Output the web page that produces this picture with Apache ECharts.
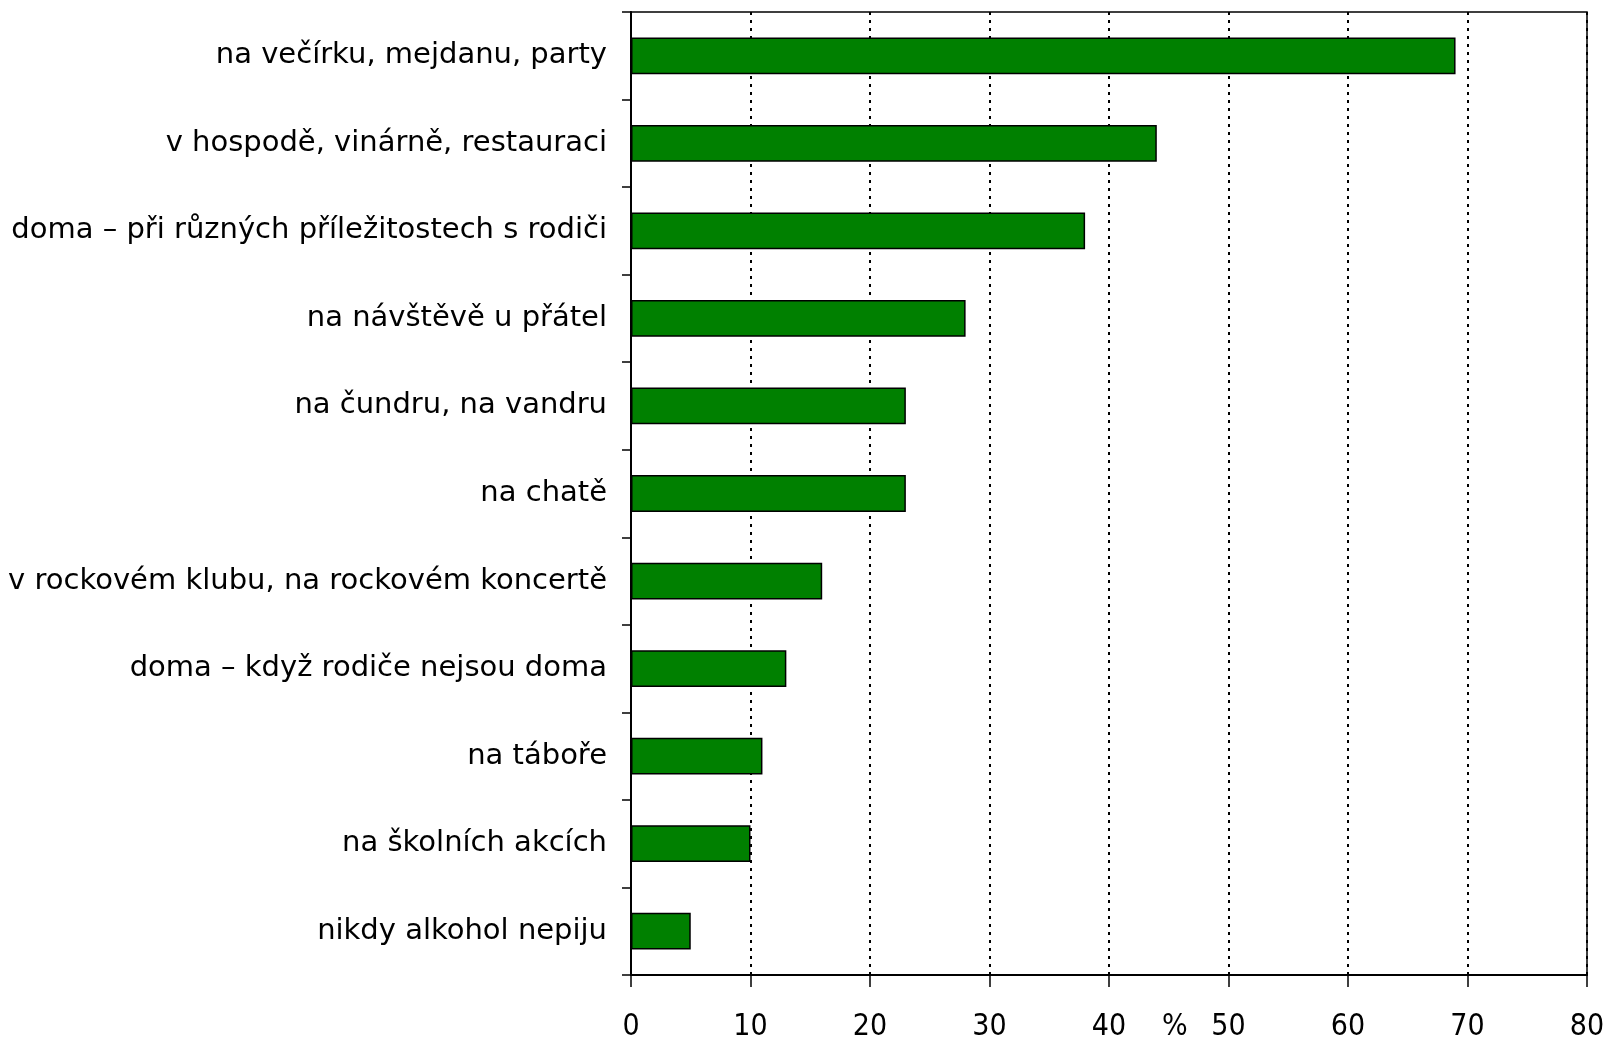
<!DOCTYPE html>
<html>
<head>
<meta charset="utf-8">
<script src="https://cdn.jsdelivr.net/npm/echarts@6/dist/echarts.min.js"></script>
<style>
html,body{margin:0;padding:0;background:#fff;}
#chart{width:1609px;height:1045px;}
</style>
</head>
<body>
<div id="chart"></div>
<script>
// kde pijí alkohol
var categories = [
  'na večírku, mejdanu, party',
  'v hospodě, vinárně, restauraci',
  'doma – při různých příležitostech s rodiči',
  'na návštěvě u přátel',
  'na čundru, na vandru',
  'na chatě',
  'v rockovém klubu, na rockovém koncertě',
  'doma – když rodiče nejsou doma',
  'na táboře',
  'na školních akcích',
  'nikdy alkohol nepiju'
];
var values = [69, 44, 38, 28, 23, 23, 16, 13, 11, 10, 5];
var xTicks = [0, 10, 20, 30, 40, 50, 60, 70, 80];
var unitLabel = '%';

var gridBottom = 70;
var labelMargin = 37;

var mychart = echarts.init(document.getElementById('chart'));
var option = {
  animation: false,
  backgroundColor: '#fff',
  grid: {
    left: 631,
    right: 22,
    top: 12,
    bottom: gridBottom,
    show: true,
    borderColor: '#000',
    borderWidth: 1.5,
    containLabel: false,
    outerBoundsMode: 'none'
  },
  xAxis: {
    type: 'value',
    min: xTicks[0],
    max: xTicks[xTicks.length - 1],
    interval: 10,
    axisLine: { show: true, lineStyle: { color: '#000', width: 2 } },
    axisTick: { show: true, length: 12, lineStyle: { color: '#000', width: 1.5 } },
    axisLabel: {
      margin: labelMargin,
      fontFamily: 'DejaVu Sans Condensed, DejaVu Sans',
      fontSize: 30,
      color: '#000'
    },
    splitLine: {
      show: true,
      lineStyle: { color: '#000', width: 2, type: [3, 5] }
    }
  },
  yAxis: {
    type: 'category',
    inverse: true,
    data: categories,
    axisLine: { show: true, lineStyle: { color: '#000', width: 2 } },
    axisTick: { show: true, length: 9, lineStyle: { color: '#000', width: 1.5 } },
    axisLabel: {
      margin: 24,
      fontFamily: 'DejaVu Sans',
      fontSize: 29,
      color: '#000'
    },
    splitLine: { show: false }
  },
  series: [{
    type: 'bar',
    data: values,
    barCategoryGap: '58%',
    itemStyle: {
      color: '#008000',
      borderColor: '#000',
      borderWidth: 1.5
    }
  }]
};
mychart.setOption(option, true);

// jednotka "%" mezi popisky 40 a 50
var pctX = mychart.convertToPixel({ xAxisIndex: 0 }, 45.5);
mychart.setOption({
  graphic: [{
    type: 'text',
    x: pctX,
    y: mychart.getHeight() - gridBottom + labelMargin,
    style: {
      text: unitLabel,
      fontFamily: 'DejaVu Sans Condensed, DejaVu Sans',
      fontSize: 30,
      fill: '#000',
      align: 'center',
      verticalAlign: 'top'
    }
  }]
});
window.addEventListener('resize', function () { mychart.resize(); });
</script>
</body>
</html>
